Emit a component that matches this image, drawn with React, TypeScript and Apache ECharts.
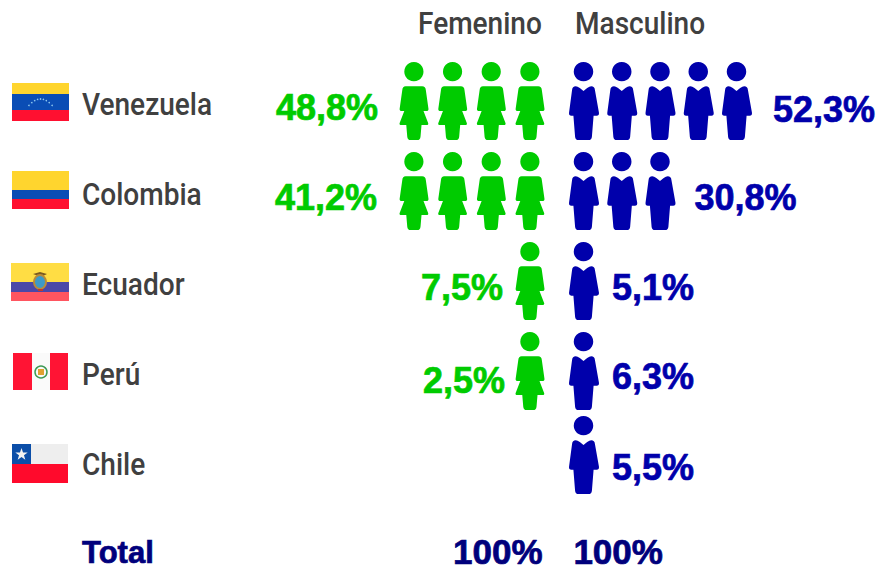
import React, { useEffect, useRef } from "react";
import * as echarts from "echarts";

const countries = ["Venezuela", "Colombia", "Ecuador", "Perú", "Chile", "Total"];
const femaleIcons = [4, 4, 1, 1, 0];
const maleIcons = [5, 3, 1, 1, 1];
const femaleLabels = ["48,8%", "41,2%", "7,5%", "2,5%", ""];
const maleLabels = ["52,3%", "30,8%", "5,1%", "6,3%", "5,5%"];
const totalLabel = "100%";
const headers = ["Femenino", "Masculino"];

const GREEN = "#00CB00";
const BLUE = "#0000AB";
const NAVY = "#00007C";
const GREY = "#404040";
const NAME_FONT = '500 31px Roboto, sans-serif';
const WIDE = '"Liberation Sans", sans-serif';

const womanPath =
  "path://M420 34a29 29 0 1 1 -0.01 0z M395 107H445Q455 107 456 118L464 174Q465 181 457 181L449 181L463 217Q465 223 458 223H443L440 258Q439 268 430 268H410Q401 268 400 258L397 223H382Q375 223 377 217L391 181L384 181Q376 181 377 174L385 118Q386 107 395 107z";
const manPath =
  "path://M581 34a29 29 0 1 1 -0.01 0z M558 107Q563 107 570 112L581 121L592 112Q599 107 604 107Q614 107 615 118L627 186Q628 195 620 195H611L606 258Q605 268 596 268H566Q557 268 556 258L551 195H545Q537 195 538 186L547 118Q548 107 558 107z";

// Layout only: icon shift per row, label distance and vertical shift.
const iconShift = [-3, -3, -3, -3, -9];
const femaleGap = [36, 37, 27, 25, 0];
const maleGap = [36, 34, 28, 28, 28];
const femaleTextShift = [3, 3, 3, 6, 0];
const maleTextShift = [5, 3, 3, 2, 3];

function iconData(counts: number[], labels: string[], side: "left" | "right", gaps: number[], shifts: number[]) {
  const out: any[] = [];
  counts.forEach((count, row) => {
    for (let slot = 0; slot < count; slot++) {
      const last = slot === count - 1;
      out.push({
        value: [slot, row],
        symbolOffset: [0, iconShift[row]],
        label: {
          show: last,
          formatter: labels[row],
          position: side,
          distance: gaps[row] - (side === "left" ? 14.5 : 15),
          offset: [0, shifts[row] - iconShift[row]],
        },
      });
    }
  });
  return out;
}

function stripes(x: number, y: number, w: number, parts: [number, string][]) {
  let cy = y;
  return parts.map(([h, fill]) => {
    const r = { type: "rect", shape: { x, y: cy, width: w, height: h }, style: { fill } };
    cy += h;
    return r;
  });
}

function starPoints(cx: number, cy: number, R: number, r: number) {
  const pts: number[][] = [];
  for (let i = 0; i < 10; i++) {
    const a = -Math.PI / 2 + (i * Math.PI) / 5;
    const d = i % 2 ? r : R;
    pts.push([cx + d * Math.cos(a), cy + d * Math.sin(a)]);
  }
  return pts;
}

const vzStars = [-4, -3, -2, -1, 0, 1, 2, 3, 4].map((k) => ({
  type: "circle",
  shape: { cx: 40.5 + k * 2.9, cy: 99 + k * k * 0.4, r: 0.8 },
  style: { fill: "#8FC8F0" },
}));

const flags = [
  ...stripes(12, 83, 57, [[11, "#FFD52E"], [16, "#0A4DB5"], [11, "#FF1030"]]),
  ...vzStars,
  ...stripes(12, 171, 57, [[19, "#FFD52E"], [9, "#0A4DB5"], [10, "#FF1030"]]),
  ...stripes(11, 263, 58, [[19, "#FFDD44"], [10, "#4A48A8"], [9, "#FF5560"]]),
  { type: "polygon", shape: { points: [[33, 274], [40, 272], [47, 274], [41, 277]] }, style: { fill: "#7A5A20" } },
  { type: "ellipse", shape: { cx: 40, cy: 282, rx: 6, ry: 7 }, style: { fill: "#3C9AC8", stroke: "#B88A3A", lineWidth: 2 } },
  { type: "rect", shape: { x: 38, y: 289, width: 5, height: 2 }, style: { fill: "#C0392B" } },
  { type: "rect", shape: { x: 13, y: 353, width: 55, height: 37 }, style: { fill: "#FF1434" } },
  { type: "rect", shape: { x: 32, y: 353, width: 18, height: 37 }, style: { fill: "#FAFAFA" } },
  { type: "circle", shape: { cx: 41, cy: 372, r: 6 }, style: { fill: "#FAFAFA", stroke: "#3E9A55", lineWidth: 1.5 } },
  { type: "rect", shape: { x: 38, y: 369, width: 6, height: 6 }, style: { fill: "#E0A030" } },
  ...stripes(12, 444, 56, [[20, "#EEEEEE"], [19, "#FF0A2C"]]),
  { type: "rect", shape: { x: 12, y: 444, width: 19, height: 20 }, style: { fill: "#0B4EA8" } },
  { type: "polygon", shape: { points: starPoints(21.5, 454.5, 6.5, 2.6) }, style: { fill: "#F2F2F2" } },
];

const nameY = [105, 195, 285, 375, 465];
const nameTexts = countries.slice(0, 5).map((name, i) => ({
  type: "text",
  x: 82,
  y: nameY[i],
  scaleX: 0.905,
  style: { text: name, fill: GREY, font: NAME_FONT, verticalAlign: "middle" },
}));

export default function App() {
  const ref = useRef<HTMLDivElement>(null);
  useEffect(() => {
    document.body.style.margin = "0";
    const chart = echarts.init(ref.current!, undefined, { renderer: "svg" });
    const hiddenY = (gridIndex: number) => ({
      type: "category",
      gridIndex,
      data: countries,
      inverse: true,
      axisLine: { show: false },
      axisTick: { show: false },
      axisLabel: { show: false },
      splitLine: { show: false },
    });
    const hiddenX = (gridIndex: number, max: number, inverse: boolean) => ({
      type: "value",
      gridIndex,
      min: 0,
      max,
      inverse,
      show: false,
    });
    const pct = (color: string, fontSize = 36) => ({
      show: true,
      color,
      fontFamily: WIDE,
      fontWeight: "bold",
      fontSize,
      textBorderColor: color,
      textBorderWidth: 0.7,
    });
    chart.setOption({
      animation: false,
      backgroundColor: "#FFFFFF",
      grid: [
        { left: 414, top: 59, width: 116, height: 540, outerBoundsMode: "none" },
        { left: 584, top: 59, width: 153, height: 540, outerBoundsMode: "none" },
      ],
      xAxis: [hiddenX(0, 3, true), hiddenX(1, 4, false)],
      yAxis: [hiddenY(0), hiddenY(1)],
      series: [
        {
          type: "scatter",
          clip: false,
          xAxisIndex: 0,
          yAxisIndex: 0,
          symbol: womanPath,
          symbolSize: [29, 78],
          itemStyle: { color: GREEN, opacity: 1 },
          label: pct(GREEN),
          data: iconData(femaleIcons, femaleLabels, "left", femaleGap, femaleTextShift),
        },
        {
          type: "scatter",
          clip: false,
          xAxisIndex: 1,
          yAxisIndex: 1,
          symbol: manPath,
          symbolSize: [30, 78],
          itemStyle: { color: BLUE, opacity: 1 },
          label: pct(BLUE),
          data: iconData(maleIcons, maleLabels, "right", maleGap, maleTextShift),
        },
        {
          type: "scatter",
          clip: false,
          xAxisIndex: 0,
          yAxisIndex: 0,
          symbol: "circle",
          symbolSize: 1,
          itemStyle: { color: "#FFFFFF", opacity: 0 },
          data: [{ value: [-0.34, 5] }],
          label: { ...pct(NAVY, 35), opacity: 1, formatter: totalLabel, position: "left", distance: 0, offset: [0, -3] },
        },
        {
          type: "scatter",
          clip: false,
          xAxisIndex: 1,
          yAxisIndex: 1,
          symbol: "circle",
          symbolSize: 1,
          itemStyle: { color: "#FFFFFF", opacity: 0 },
          data: [{ value: [-0.29, 5] }],
          label: { ...pct(NAVY, 35), opacity: 1, formatter: totalLabel, position: "right", distance: 0, offset: [0, -3] },
        },
      ],
      graphic: [
        ...flags,
        ...nameTexts,
        { type: "text", x: 82, y: 552, style: { text: countries[5], fill: NAVY, font: `bold 31px ${WIDE}`, verticalAlign: "middle", stroke: NAVY, lineWidth: 0.7 } },
        { type: "text", x: 418, y: 24, scaleX: 0.905, style: { text: headers[0], fill: GREY, font: NAME_FONT, verticalAlign: "middle" } },
        { type: "text", x: 575, y: 24, scaleX: 0.905, style: { text: headers[1], fill: GREY, font: NAME_FONT, verticalAlign: "middle" } },
      ],
    });
    return () => chart.dispose();
  }, []);
  return <div ref={ref} style={{ width: 877, height: 569 }} />;
}
